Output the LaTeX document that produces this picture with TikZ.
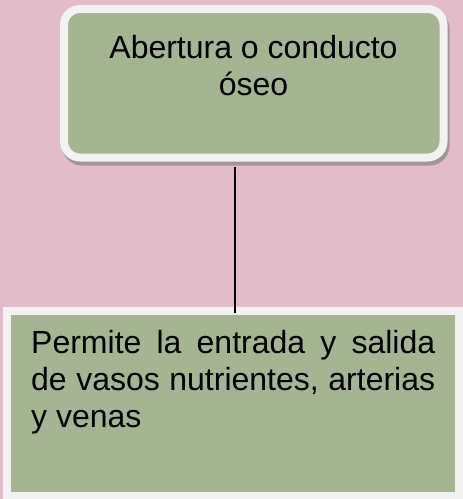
\documentclass[tikz,border=0pt]{standalone}
\usepackage{fontspec}
\setmainfont{Liberation Sans}
\usetikzlibrary{shadows}
\definecolor{fondo}{HTML}{E2BCC8}
\definecolor{verde}{HTML}{A5B491}
\definecolor{borde}{HTML}{F2F2F2}
\definecolor{sombra}{HTML}{A39595}

\begin{document}
\begin{tikzpicture}[x=1pt,y=-1pt,
  caja/.style={draw=borde,fill=verde,line width=8pt,inner sep=0pt},
  cajasup/.style={caja,rounded corners=16pt,minimum width=379.5pt,minimum height=148.5pt,
    general shadow={draw=sombra,fill=sombra,line width=8pt,shadow xshift=2pt,shadow yshift=-4pt}},
  cajainf/.style={caja,minimum width=452pt,minimum height=185pt},
  texto/.style={inner sep=0pt,font=\fontsize{32}{37}\selectfont}]
  \useasboundingbox (0,0) rectangle (463,499);
  \fill[fondo] (0,0) rectangle (463,499);
  \clip (0,0) rectangle (463,499);
  % recuadro superior
  \node[cajasup] (abertura) at (253.75,83.25) {};
  \node[texto,align=center,anchor=north] (abertxt) at (253.5,34.7) {Abertura o conducto\\óseo};
  % recuadro inferior
  \node[cajainf] (funcion) at (233,403.5) {};
  \node[texto,text width=404pt,align=justify,anchor=north west] (functxt) at (31,329.7)
    {Permite la entrada y salida\linebreak de vasos nutrientes, arterias\linebreak y venas};
  \coordinate (union) at (235,313);
  \draw[line width=1.5pt] (union) -- ([yshift=-5pt]union |- abertura.south);
\end{tikzpicture}
\end{document}
